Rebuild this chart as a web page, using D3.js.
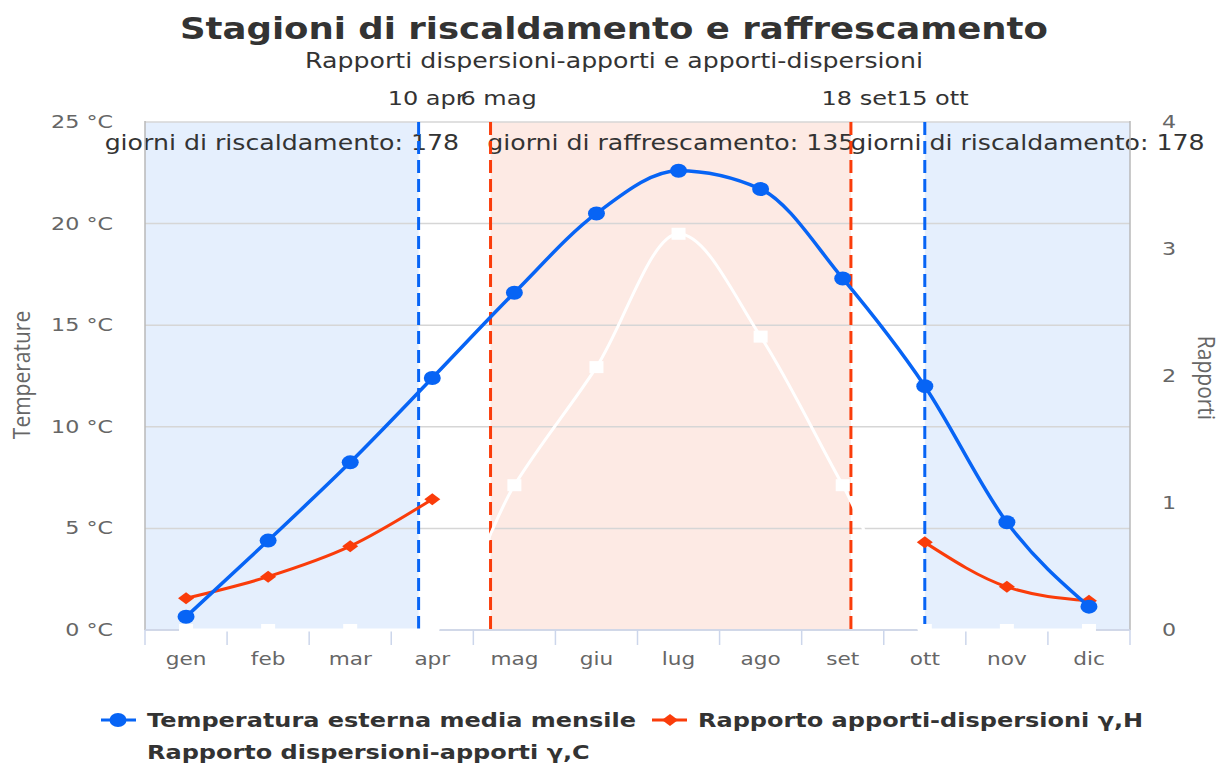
<!DOCTYPE html>
<html>
<head>
<meta charset="utf-8">
<script src="https://cdn.jsdelivr.net/npm/d3@7"></script>
<style>
  body { margin: 0; background: #fff; }
  svg { display: block; }
</style>
</head>
<body>
<div id="chart"></div>
<script>
// dati mensili
const months = ["gen", "feb", "mar", "apr", "mag", "giu", "lug", "ago", "set", "ott", "nov", "dic"];
const temperature = [0.65, 4.4, 8.25, 12.4, 16.6, 20.5, 22.6, 21.7, 17.3, 12.0, 5.3, 1.15];
const gammaH = [0.25, 0.42, 0.66, 1.03, null, null, null, null, null, 0.69, 0.34, 0.23];
const gammaC = [0, 0, 0, 0, 1.14, 2.07, 3.12, 2.31, 1.14, 0, 0, 0];

// date di inizio/fine stagione (mese index, giorno, giorni nel mese)
const seasonLines = [
  { label: "10 apr", month: 3, day: 10, days: 30, kind: "heat" },
  { label: "6 mag", month: 4, day: 6, days: 31, kind: "cool" },
  { label: "18 set", month: 8, day: 18, days: 30, kind: "cool" },
  { label: "15 ott", month: 9, day: 15, days: 31, kind: "heat" }
];
const seasonBands = [
  { from: null, to: 0, kind: "heat", label: "giorni di riscaldamento: 178" },
  { from: 1, to: 2, kind: "cool", label: "giorni di raffrescamento: 135" },
  { from: 3, to: null, kind: "heat", label: "giorni di riscaldamento: 178" }
];
const leftTicks = [0, 5, 10, 15, 20, 25];
const rightTicks = [0, 1, 2, 3, 4];
const seriesNames = ["Temperatura esterna media mensile", "Rapporto apporti-dispersioni \u03b3,H", "Rapporto dispersioni-apporti \u03b3,C"];

const width = 1230, height = 765;
const pL = 145, pR = 1130, pT = 122, pB = 630;
const SX = 1.2; // allargamento orizzontale dei testi
const BLUE = "#0764f5", RED = "#fa3c0a";
const FONT = "'DejaVu Sans', sans-serif";

const svg = d3.select("#chart").append("svg")
  .attr("width", width).attr("height", height);

// scale
const xBand = d3.scaleBand().domain(months).range([pL, pR]);
const xVal = d3.scaleLinear().domain([-0.5, 11.5]).range([pL, pR]);
const yT = d3.scaleLinear().domain([0, 25]).range([pB, pT]);
const yR = d3.scaleLinear().domain([0, 4]).range([pB, pT]);

function lineValue(l) { return l.month + (l.day - 15) / l.days; }

function addText(g, x, y, str, o) {
  o = o || {};
  let tr = `translate(${x},${y}) scale(${o.sx || SX},1)`;
  if (o.rot) tr += ` rotate(${o.rot})`;
  return g.append("text")
    .attr("transform", tr)
    .attr("text-anchor", o.anchor || "middle")
    .attr("font-family", o.font || FONT)
    .attr("font-size", o.size || 16)
    .attr("font-weight", o.weight || "normal")
    .attr("fill", o.fill || "#333")
    .text(str);
}

function bandEdges(b) {
  const x0 = b.from === null ? pL : xVal(lineValue(seasonLines[b.from]));
  const x1 = b.to === null ? pR : xVal(lineValue(seasonLines[b.to]));
  return [x0, x1];
}

// bande stagionali
const bandG = svg.append("g");
seasonBands.forEach(b => {
  const [x0, x1] = bandEdges(b);
  bandG.append("rect")
    .attr("x", x0).attr("y", pT)
    .attr("width", x1 - x0).attr("height", pB - pT)
    .attr("fill", b.kind === "heat" ? "#e5effd" : "#fdeae4");
});

// griglia
svg.append("g").selectAll("line").data(leftTicks).join("line")
  .attr("x1", pL).attr("x2", pR)
  .attr("y1", d => yT(d)).attr("y2", d => yT(d))
  .attr("stroke", "#d6d6d6").attr("stroke-width", 1.5);

// bordi verticali
svg.append("g").selectAll("line").data([pL, pR]).join("line")
  .attr("x1", d => d).attr("x2", d => d)
  .attr("y1", pT - 1).attr("y2", pB)
  .attr("stroke", "#b8b8b8").attr("stroke-width", 1.5);

// asse x
const xAxisG = svg.append("g");
xAxisG.append("line")
  .attr("x1", pL).attr("x2", pR).attr("y1", pB).attr("y2", pB)
  .attr("stroke", "#ccd6eb").attr("stroke-width", 1.5);
xAxisG.selectAll("line.tick").data(d3.range(13)).join("line")
  .attr("class", "tick")
  .attr("x1", i => xVal(i - 0.5)).attr("x2", i => xVal(i - 0.5))
  .attr("y1", pB).attr("y2", pB + 15)
  .attr("stroke", "#ccd6eb").attr("stroke-width", 1.5);
months.forEach(m => {
  addText(xAxisG, xBand(m) + xBand.bandwidth() / 2, 665, m, { size: 18, fill: "#666" });
});

// assi y
const yAxisG = svg.append("g");
leftTicks.forEach(t => {
  addText(yAxisG, 113, yT(t) + 6, t + " \u00b0C", { size: 18.5, fill: "#666", anchor: "end" });
});
rightTicks.forEach(t => {
  addText(yAxisG, 1162, yR(t) + 6, t, { size: 18.5, fill: "#666", anchor: "start" });
});
addText(yAxisG, 30, 375, "Temperature", { size: 21, fill: "#666", rot: -90, font: "'Open Sans', sans-serif", sx: 1.1 });
addText(yAxisG, 1198, 378, "Rapporti", { size: 21, fill: "#666", rot: 90, font: "'Open Sans', sans-serif", sx: 1.1 });

// etichette delle bande
seasonBands.forEach(b => {
  const [x0, x1] = bandEdges(b);
  addText(bandG, (x0 + x1) / 2, 150, b.label, { size: 21 });
});

// linee di inizio/fine stagione
const plotLineG = svg.append("g");
seasonLines.forEach(l => {
  const x = xVal(lineValue(l));
  plotLineG.append("line")
    .attr("x1", x).attr("x2", x).attr("y1", pT).attr("y2", pB)
    .attr("stroke", l.kind === "heat" ? BLUE : RED)
    .attr("stroke-width", 3)
    .attr("stroke-dasharray", "13,6");
  addText(plotLineG, x + 8, 105, l.label, { size: 20 });
});

// serie
const cx = (d, i) => xBand(months[i]) + xBand.bandwidth() / 2;
const seriesG = svg.append("g");

const lineC = d3.line().defined(d => d !== null).x(cx).y(d => yR(d)).curve(d3.curveMonotoneX);
seriesG.append("path").attr("d", lineC(gammaC))
  .attr("fill", "none").attr("stroke", "#fff").attr("stroke-width", 3);
seriesG.append("g").selectAll("rect").data(gammaC).join("rect")
  .attr("x", (d, i) => cx(d, i) - 7).attr("y", d => yR(d) - 6)
  .attr("width", 14).attr("height", 12).attr("fill", "#fff");

const lineH = d3.line().defined(d => d !== null).x(cx).y(d => yR(d)).curve(d3.curveMonotoneX);
seriesG.append("path").attr("d", lineH(gammaH))
  .attr("fill", "none").attr("stroke", RED).attr("stroke-width", 3);
const diamond = "M0,-6 L8,0 L0,6 L-8,0 Z";
seriesG.append("g").selectAll("path").data(gammaH.map((d, i) => [d, i]).filter(p => p[0] !== null)).join("path")
  .attr("d", diamond)
  .attr("transform", p => `translate(${cx(p[0], p[1])},${yR(p[0])})`)
  .attr("fill", RED);

const lineT = d3.line().x(cx).y(d => yT(d)).curve(d3.curveMonotoneX);
seriesG.append("path").attr("d", lineT(temperature))
  .attr("fill", "none").attr("stroke", BLUE).attr("stroke-width", 3.5);
seriesG.append("g").selectAll("ellipse").data(temperature).join("ellipse")
  .attr("cx", cx).attr("cy", d => yT(d))
  .attr("rx", 8.5).attr("ry", 7).attr("fill", BLUE);

// titolo
addText(svg, 614, 39, "Stagioni di riscaldamento e raffrescamento", { size: 29.6, weight: "bold" });
addText(svg, 614, 68, "Rapporti dispersioni-apporti e apporti-dispersioni", { size: 21 });

// legenda
const legG = svg.append("g");
const legItems = [
  { x: 101, y: 720, color: BLUE, sym: "circle" },
  { x: 652, y: 720, color: RED, sym: "diamond" },
  { x: 101, y: 752, color: "#fff", sym: "square" }
];
legItems.forEach((it, i) => {
  legG.append("line")
    .attr("x1", it.x).attr("x2", it.x + 35).attr("y1", it.y).attr("y2", it.y)
    .attr("stroke", it.color).attr("stroke-width", 3);
  if (it.sym === "circle") {
    legG.append("ellipse").attr("cx", it.x + 17).attr("cy", it.y).attr("rx", 8.5).attr("ry", 7).attr("fill", it.color);
  } else if (it.sym === "diamond") {
    legG.append("path").attr("d", diamond).attr("transform", `translate(${it.x + 18},${it.y})`).attr("fill", it.color);
  } else {
    legG.append("rect").attr("x", it.x + 11).attr("y", it.y - 6).attr("width", 14).attr("height", 12).attr("fill", it.color);
  }
  addText(legG, it.x + 46, it.y + 7, seriesNames[i], { size: 20, weight: "bold", anchor: "start" });
});
</script>
</body>
</html>
